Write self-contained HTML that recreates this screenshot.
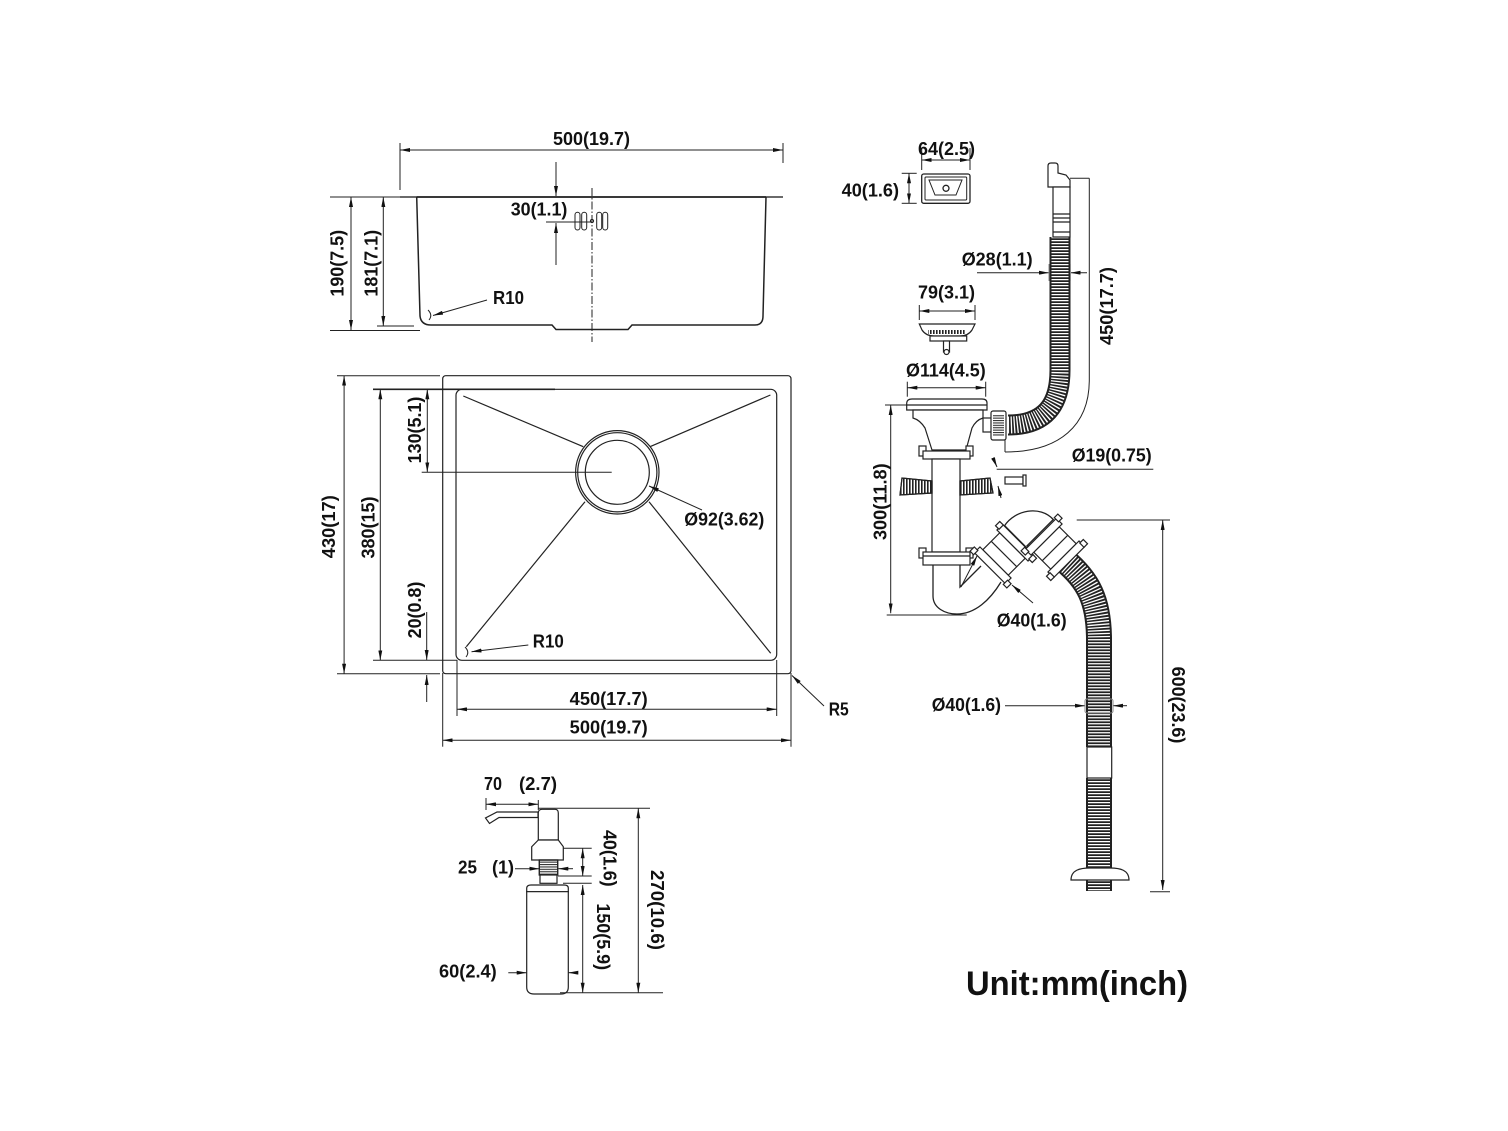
<!DOCTYPE html>
<html>
<head>
<meta charset="utf-8">
<style>
html,body{margin:0;padding:0;background:#fff;}
svg{display:block;}
text{font-family:"Liberation Sans","Noto Sans CJK SC",sans-serif;font-weight:bold;font-size:18px;fill:#111;}
</style>
</head>
<body>
<svg width="1508" height="1131" viewBox="0 0 1508 1131" xmlns="http://www.w3.org/2000/svg">
<defs>
<marker id="a" viewBox="0 0 10 4" refX="10" refY="2" markerWidth="10" markerHeight="4" markerUnits="userSpaceOnUse" orient="auto-start-reverse">
<path d="M0,0 L10,2 L0,4 z" fill="#111"/>
</marker>
<pattern id="vs" width="3" height="20" patternUnits="userSpaceOnUse"><rect width="1.6" height="20" fill="#222"/></pattern>
<pattern id="hs" width="20" height="2.4" patternUnits="userSpaceOnUse"><rect width="20" height="1.1" fill="#333"/></pattern>
</defs>
<rect width="1508" height="1131" fill="#fff"/>

<!-- ===== TOP SIDE VIEW ===== -->
<g stroke="#222" fill="none" stroke-width="1">
<line x1="400" y1="143" x2="400" y2="190"/>
<line x1="783" y1="143" x2="783" y2="163"/>
<line x1="400" y1="150" x2="783" y2="150" marker-start="url(#a)" marker-end="url(#a)"/>
<line x1="330" y1="197" x2="400" y2="197"/>
<line x1="400" y1="197" x2="783" y2="197" stroke-width="1.8" stroke="#555"/>
<line x1="416.7" y1="197" x2="766" y2="197" stroke-width="1.4"/>
<path d="M416.7,197 L420,316 Q421,325 431,325 L552,325 L556,329.5 L628,329.5 L632,325 L755,325 Q763,325 763,316 L766,197" stroke-width="1.5"/>
<line x1="330" y1="330.5" x2="420" y2="330.5"/>
<line x1="377" y1="326" x2="414" y2="326"/>
<line x1="351" y1="197" x2="351" y2="330" marker-start="url(#a)" marker-end="url(#a)"/>
<line x1="383.3" y1="197" x2="383.3" y2="326" marker-start="url(#a)" marker-end="url(#a)"/>
<line x1="556" y1="162" x2="556" y2="196" marker-end="url(#a)"/>
<line x1="556" y1="265" x2="556" y2="223" marker-end="url(#a)"/>
<line x1="546" y1="222" x2="592" y2="222"/>
<line x1="592" y1="188" x2="592" y2="342" stroke-dasharray="8 2 1.5 2"/>
<rect x="575" y="212.3" width="5" height="17.7" rx="2.5"/>
<rect x="581.7" y="212.3" width="5" height="17.7" rx="2.5"/>
<rect x="596.7" y="212.3" width="5" height="17.7" rx="2.5"/>
<rect x="602.7" y="212.3" width="5" height="17.7" rx="2.5"/>
<circle cx="592" cy="221" r="1.6"/>
<line x1="487" y1="300" x2="433" y2="315.5" marker-end="url(#a)"/>
<path d="M428,310 Q433,315 429,320"/>
</g>
<text x="553" y="145" textLength="77" lengthAdjust="spacingAndGlyphs">500(19.7)</text>
<text x="510.7" y="215.7" textLength="56.7" lengthAdjust="spacingAndGlyphs">30(1.1)</text>
<text transform="translate(337,263.3) rotate(-90)" y="6.5" text-anchor="middle" textLength="66.7" lengthAdjust="spacingAndGlyphs">190(7.5)</text>
<text transform="translate(371,263.3) rotate(-90)" y="6.5" text-anchor="middle" textLength="66.7" lengthAdjust="spacingAndGlyphs">181(7.1)</text>
<text x="493" y="304" textLength="31" lengthAdjust="spacingAndGlyphs">R10</text>

<!-- ===== TOP VIEW ===== -->
<g stroke="#222" fill="none" stroke-width="1.2">
<rect x="442.7" y="375.7" width="348.3" height="298" rx="3"/>
<rect x="456" y="389.3" width="320.7" height="271" rx="6"/>
<circle cx="617.3" cy="472.3" r="41.7"/>
<circle cx="617.3" cy="472.3" r="39.6"/>
<circle cx="617.3" cy="472.3" r="32"/>
<line x1="463.3" y1="396" x2="583.3" y2="446.7"/>
<line x1="650" y1="446.7" x2="770.4" y2="395"/>
<line x1="585" y1="501.7" x2="466.3" y2="646.7"/>
<line x1="649" y1="501.7" x2="770.7" y2="653.3"/>
</g>
<g stroke="#222" fill="none" stroke-width="1">
<line x1="421.7" y1="472.3" x2="611.7" y2="472.3"/>
<line x1="337" y1="375.7" x2="440" y2="375.7"/>
<line x1="337" y1="673.7" x2="440" y2="673.7"/>
<line x1="344.1" y1="375.7" x2="344.1" y2="673.7" marker-start="url(#a)" marker-end="url(#a)"/>
<line x1="373" y1="389.3" x2="555" y2="389.3" stroke-width="1.6"/>
<line x1="373" y1="660.3" x2="457" y2="660.3"/>
<line x1="380.3" y1="389.3" x2="380.3" y2="660.3" marker-start="url(#a)" marker-end="url(#a)"/>
<line x1="427.3" y1="389.3" x2="427.3" y2="472.3" marker-start="url(#a)" marker-end="url(#a)"/>
<line x1="426.7" y1="612" x2="426.7" y2="660" marker-end="url(#a)"/>
<line x1="426.7" y1="702" x2="426.7" y2="675" marker-end="url(#a)"/>
<line x1="528.3" y1="645" x2="471.5" y2="651.7" marker-end="url(#a)"/>
<path d="M465,647 Q470,652 466,657"/>
<line x1="702" y1="510" x2="649" y2="486" marker-end="url(#a)"/>
<line x1="457" y1="660" x2="457" y2="716"/>
<line x1="776.7" y1="660" x2="776.7" y2="716"/>
<line x1="457" y1="709.3" x2="776.7" y2="709.3" marker-start="url(#a)" marker-end="url(#a)"/>
<line x1="442.7" y1="673" x2="442.7" y2="746.7"/>
<line x1="791" y1="673" x2="791" y2="746.7"/>
<line x1="442.7" y1="740.3" x2="791" y2="740.3" marker-start="url(#a)" marker-end="url(#a)"/>
<line x1="824" y1="706" x2="792" y2="675.5" marker-end="url(#a)"/>
</g>
<text transform="translate(328.6,526.7) rotate(-90)" y="6.5" text-anchor="middle" textLength="63" lengthAdjust="spacingAndGlyphs">430(17)</text>
<text transform="translate(368,527.5) rotate(-90)" y="6.5" text-anchor="middle" textLength="62" lengthAdjust="spacingAndGlyphs">380(15)</text>
<text transform="translate(414.7,430) rotate(-90)" y="6.5" text-anchor="middle" textLength="66.7" lengthAdjust="spacingAndGlyphs">130(5.1)</text>
<text transform="translate(414.7,610) rotate(-90)" y="6.5" text-anchor="middle" textLength="56.7" lengthAdjust="spacingAndGlyphs">20(0.8)</text>
<text x="532.8" y="647.3" textLength="31" lengthAdjust="spacingAndGlyphs">R10</text>
<text x="684.3" y="525.7" textLength="80" lengthAdjust="spacingAndGlyphs">Ø92(3.62)</text>
<text x="569.7" y="705" textLength="78" lengthAdjust="spacingAndGlyphs">450(17.7)</text>
<text x="569.7" y="733.3" textLength="78" lengthAdjust="spacingAndGlyphs">500(19.7)</text>
<text x="828.7" y="715.7" textLength="20" lengthAdjust="spacingAndGlyphs">R5</text>

<!-- ===== SOAP DISPENSER ===== -->
<g stroke="#222" fill="none" stroke-width="1">
<line x1="486" y1="798" x2="486" y2="810"/>
<line x1="538.3" y1="800" x2="538.3" y2="810"/>
<line x1="486" y1="804.3" x2="538.3" y2="804.3" marker-start="url(#a)" marker-end="url(#a)"/>
<line x1="538" y1="808.3" x2="650" y2="808.3"/>
</g>
<g stroke="#222" fill="#fff" stroke-width="1.2">
<polygon points="538,812 497,812 485.5,818 489.5,823.5 499,817.5 538,817.5"/>
<path d="M538.3,840 L538.3,813 Q538.3,809.3 542,809.3 L555,809.3 Q558.3,809.3 558.3,813 L558.3,840 Z"/>
<path d="M538.3,840 L531.7,846.7 L531.7,860 L563.3,860 L563.3,846.7 L558.3,840 Z"/>
<rect x="539.3" y="860" width="18.4" height="15" fill="url(#hs)"/>
<rect x="539.3" y="860" width="18.4" height="15" fill="none"/>
<rect x="540" y="875" width="17" height="8.3"/>
<path d="M526.7,891.7 L526.7,888 Q527,885 531,885 L564,885 Q568.3,885 568.3,888 L568.3,891.7 Z"/>
<path d="M526.7,891.7 L526.7,987 Q526.7,994 534,994 L561,994 Q568.3,994 568.3,987 L568.3,891.7 Z"/>
</g>
<g stroke="#222" fill="none" stroke-width="1">
<line x1="563" y1="848.3" x2="591.7" y2="848.3"/>
<line x1="558" y1="876" x2="591.7" y2="876"/>
<line x1="582.7" y1="848.3" x2="582.7" y2="876" marker-start="url(#a)" marker-end="url(#a)"/>
<line x1="563" y1="883.3" x2="591.7" y2="883.3"/>
<line x1="582.7" y1="885" x2="582.7" y2="992.7" marker-start="url(#a)" marker-end="url(#a)"/>
<line x1="638.3" y1="808.3" x2="638.3" y2="992.7" marker-start="url(#a)" marker-end="url(#a)"/>
<line x1="560" y1="992.7" x2="663" y2="992.7"/>
<line x1="515" y1="868.7" x2="539.3" y2="868.7" marker-end="url(#a)"/>
<line x1="573" y1="868.7" x2="558.3" y2="868.7" marker-end="url(#a)"/>
<line x1="508.3" y1="972.7" x2="526.7" y2="972.7" marker-end="url(#a)"/>
<line x1="578" y1="972.7" x2="568.3" y2="972.7" marker-end="url(#a)"/>
</g>
<text x="484" y="790" textLength="18" lengthAdjust="spacingAndGlyphs">70</text>
<text x="519" y="790" textLength="38" lengthAdjust="spacingAndGlyphs">(2.7)</text>
<text x="458" y="873.3" textLength="19" lengthAdjust="spacingAndGlyphs">25</text>
<text x="492" y="873.3" textLength="22" lengthAdjust="spacingAndGlyphs">(1)</text>
<text x="439" y="977.3" textLength="57.7" lengthAdjust="spacingAndGlyphs">60(2.4)</text>
<text transform="translate(610,858.3) rotate(90)" y="6.5" text-anchor="middle" textLength="56.7" lengthAdjust="spacingAndGlyphs">40(1.6)</text>
<text transform="translate(603.3,936.7) rotate(90)" y="6.5" text-anchor="middle" textLength="66.7" lengthAdjust="spacingAndGlyphs">150(5.9)</text>
<text transform="translate(657.7,910) rotate(90)" y="6.5" text-anchor="middle" textLength="80" lengthAdjust="spacingAndGlyphs">270(10.6)</text>

<!-- ===== OVERFLOW PLATE ===== -->
<g stroke="#222" fill="none" stroke-width="1">
<line x1="921.7" y1="148" x2="921.7" y2="170"/>
<line x1="970" y1="148" x2="970" y2="170"/>
<line x1="921.7" y1="160" x2="970" y2="160" marker-start="url(#a)" marker-end="url(#a)"/>
<line x1="901.7" y1="173.3" x2="916.7" y2="173.3"/>
<line x1="901.7" y1="203.3" x2="916.7" y2="203.3"/>
<line x1="909" y1="173.3" x2="909" y2="203.3" marker-start="url(#a)" marker-end="url(#a)"/>
</g>
<g stroke="#222" fill="none" stroke-width="1.3">
<rect x="921.7" y="174" width="48.3" height="29.3" rx="2"/>
<rect x="925" y="177" width="41.7" height="23" rx="1" stroke-width="1"/>
<path d="M929,180 L962,180 L956,195 L935,195 Z" stroke-width="1"/>
<circle cx="946" cy="188.3" r="3"/>
</g>
<text x="918" y="155" textLength="57" lengthAdjust="spacingAndGlyphs">64(2.5)</text>
<text x="841.7" y="196.7" textLength="57.3" lengthAdjust="spacingAndGlyphs">40(1.6)</text>

<!-- ===== OVERFLOW PIPE ===== -->
<g stroke="#222" fill="none">
<path d="M1060,237 L1060,370 C1060,405 1045,425 1008,425" stroke="#222" stroke-width="21"/>
<path d="M1060,237 L1060,370 C1060,405 1045,425 1008,425" stroke="#fff" stroke-width="17" stroke-dasharray="1.3 1.7"/>
</g>
<g stroke="#222" fill="#fff" stroke-width="1.2">
<path d="M1048,187 L1048,166 Q1048,163 1051,163 L1055,163 Q1058,163 1058,166 L1058,173 L1066,175 L1070,180 L1070,187 Z"/>
<rect x="1053" y="187" width="17" height="50"/>
<line x1="1053" y1="214" x2="1070" y2="214"/>
<line x1="1053" y1="218" x2="1070" y2="218"/>
<line x1="1053" y1="222" x2="1070" y2="222"/>
<line x1="1053" y1="232" x2="1070" y2="232"/>
</g>
<g stroke="#222" fill="none" stroke-width="1">
<line x1="1070" y1="178.3" x2="1089.3" y2="178.3"/>
<path d="M1089.3,178.3 L1089.3,380 C1089.3,425 1060,452 1005,452"/>
<line x1="1005" y1="437" x2="1005" y2="452"/>
<line x1="977" y1="272.7" x2="1049" y2="272.7" marker-end="url(#a)"/>
<line x1="1087" y1="272.7" x2="1070.5" y2="272.7" marker-end="url(#a)"/>
<line x1="1049" y1="264" x2="1049" y2="281" stroke="#888"/>
<line x1="1070.5" y1="264" x2="1070.5" y2="281" stroke="#888"/>
</g>
<text x="961.7" y="265.7" textLength="71" lengthAdjust="spacingAndGlyphs">Ø28(1.1)</text>
<text transform="translate(1106.7,306) rotate(-90)" y="6.5" text-anchor="middle" textLength="78" lengthAdjust="spacingAndGlyphs">450(17.7)</text>

<!-- ===== STRAINER ===== -->
<g stroke="#222" fill="none" stroke-width="1">
<line x1="919.3" y1="305" x2="919.3" y2="320"/>
<line x1="975" y1="305" x2="975" y2="320"/>
<line x1="919.3" y1="311" x2="975" y2="311" marker-start="url(#a)" marker-end="url(#a)"/>
</g>
<g stroke="#222" fill="#fff" stroke-width="1.2">
<path d="M919.3,324 L975,324 L972,330 Q968,336 960,336 L934,336 Q926,336 922,330 Z"/>
<rect x="928" y="330" width="38" height="4" fill="url(#vs)" stroke="none"/>
<rect x="930" y="336" width="36.7" height="5"/>
<rect x="943.5" y="341" width="6" height="11"/>
<circle cx="946.5" cy="352" r="2.5"/>
</g>
<text x="918" y="298.3" textLength="57" lengthAdjust="spacingAndGlyphs">79(3.1)</text>

<!-- ===== DRAIN BODY ===== -->
<g stroke="#222" fill="none" stroke-width="1">
<line x1="907.3" y1="381.7" x2="907.3" y2="396.7"/>
<line x1="985.7" y1="381.7" x2="985.7" y2="396.7"/>
<line x1="907.3" y1="387.7" x2="985.7" y2="387.7" marker-start="url(#a)" marker-end="url(#a)"/>
<line x1="885" y1="405" x2="906.7" y2="405"/>
<line x1="890.7" y1="405" x2="890.7" y2="613.3" marker-start="url(#a)" marker-end="url(#a)"/>
<line x1="886.7" y1="615" x2="966.7" y2="615"/>
</g>
<text x="906" y="376.7" textLength="79.7" lengthAdjust="spacingAndGlyphs">Ø114(4.5)</text>
<text transform="translate(880,501.7) rotate(-90)" y="6.5" text-anchor="middle" textLength="76.7" lengthAdjust="spacingAndGlyphs">300(11.8)</text>

<g stroke="#222" fill="#fff" stroke-width="1.2">
<path d="M906.7,410 L906.7,403 Q907,399 912,399 L982,399 Q987,399 987,403 L987,410 Z"/>
<line x1="907" y1="405" x2="987" y2="405"/>
<path d="M913,410 L983,410 L983,418 Q976,420 972,428 L966,450 L932,450 L925,428 Q920,420 913,418 Z"/>
<rect x="983" y="418" width="9" height="14"/>
<rect x="991" y="411" width="15" height="29" rx="2"/>
<rect x="993" y="415" width="11" height="21" fill="url(#hs)" stroke="none"/>
<rect x="919" y="446" width="7" height="10"/>
<rect x="966" y="446" width="7" height="10"/>
<rect x="923" y="451" width="47" height="8"/>
<rect x="932" y="459" width="28" height="93"/>
<path d="M932,481 L902,478 L900,495 L932,493 Z" fill="url(#vs)"/>
<path d="M932,481 L902,478 L900,495 L932,493 Z" fill="none"/>
<path d="M960,481 L990,478 L993,493 L960,495 Z" fill="url(#vs)"/>
<path d="M960,481 L990,478 L993,493 L960,495 Z" fill="none"/>
<rect x="1005" y="477" width="18" height="7"/>
<rect x="1023" y="475" width="3" height="11"/>
<rect x="919" y="548" width="7" height="10"/>
<rect x="966" y="548" width="7" height="10"/>
<rect x="923" y="552" width="47" height="13"/>
<line x1="923" y1="556" x2="970" y2="556"/>
</g>
<!-- trap -->
<g stroke="#222" fill="none" stroke-width="1.3">
<path d="M933,565 L933,596 C933,608 945,614 957,614 C975,614 990,600 1001,582"/>
<path d="M960,565 L960,587 L981,566"/>
</g>
<!-- hose lower -->
<g fill="none">
<path d="M1064,560 C1088,580 1099,600 1099,640 L1099,747" stroke="#222" stroke-width="26"/>
<path d="M1064,560 C1088,580 1099,600 1099,640 L1099,747" stroke="#fff" stroke-width="22" stroke-dasharray="1.3 1.7"/>
<path d="M1099,778 L1099,891" stroke="#222" stroke-width="26"/>
<path d="M1099,778 L1099,891" stroke="#fff" stroke-width="22" stroke-dasharray="1.3 1.7"/>
</g>
<g stroke="#222" fill="#fff" stroke-width="1.2">
<rect x="1087" y="747" width="24.7" height="31"/>
<path d="M1071,880 C1071,870 1080,868 1090,868 L1110,868 C1120,868 1129,870 1129,880 Z"/>
</g>
<!-- elbow -->
<path d="M1004.6,525.6 C1015,510 1040,505 1053.3,519.5 L1026.5,546.3 Q1029,544 1031.4,552.4 Z" stroke="#222" fill="#fff" stroke-width="1.3"/>
<!-- connectors -->
<g transform="translate(1004,554) rotate(-45)" stroke="#222" fill="#fff" stroke-width="1.2">
<rect x="-12" y="-18" width="24" height="36"/>
<line x1="0" y1="-18" x2="0" y2="18"/>
<rect x="-20" y="-22" width="8" height="44"/>
<rect x="12" y="-22" width="8" height="44"/>
<rect x="-22" y="-26" width="6" height="5"/>
<rect x="-22" y="21" width="6" height="5"/>
<rect x="14" y="-26" width="6" height="5"/>
<rect x="14" y="21" width="6" height="5"/>
</g>
<g transform="translate(1055,548) rotate(45)" stroke="#222" fill="#fff" stroke-width="1.2">
<rect x="-12" y="-18" width="24" height="36"/>
<line x1="0" y1="-18" x2="0" y2="18"/>
<rect x="-20" y="-22" width="8" height="44"/>
<rect x="12" y="-22" width="8" height="44"/>
<rect x="-22" y="-26" width="6" height="5"/>
<rect x="-22" y="21" width="6" height="5"/>
<rect x="14" y="-26" width="6" height="5"/>
<rect x="14" y="21" width="6" height="5"/>
</g>
<!-- drain dims -->
<g stroke="#222" fill="none" stroke-width="1">
<line x1="996.7" y1="469.3" x2="1153.3" y2="469.3"/>
<line x1="993" y1="458" x2="997" y2="467" marker-end="url(#a)"/>
<line x1="1001" y1="498" x2="998" y2="486" marker-end="url(#a)"/>
<line x1="961" y1="587" x2="977" y2="556" marker-end="url(#a)"/>
<line x1="1033" y1="603" x2="1012" y2="585" marker-end="url(#a)"/>
<line x1="1076.7" y1="520" x2="1170" y2="520"/>
<line x1="1162.7" y1="520" x2="1162.7" y2="890" marker-start="url(#a)" marker-end="url(#a)"/>
<line x1="1150" y1="891.7" x2="1170" y2="891.7"/>
<line x1="1005" y1="705.7" x2="1085" y2="705.7" marker-end="url(#a)"/>
<line x1="1127" y1="705.7" x2="1113" y2="705.7" marker-end="url(#a)"/>
<rect x="1085" y="699" width="28" height="14" rx="2" stroke="#888"/>
</g>
<text x="1071.7" y="461.7" textLength="80" lengthAdjust="spacingAndGlyphs">Ø19(0.75)</text>
<text x="996.7" y="626.7" textLength="70" lengthAdjust="spacingAndGlyphs">Ø40(1.6)</text>
<text x="931.7" y="711" textLength="69.3" lengthAdjust="spacingAndGlyphs">Ø40(1.6)</text>
<text transform="translate(1178.3,705) rotate(90)" y="6.5" text-anchor="middle" textLength="76.7" lengthAdjust="spacingAndGlyphs">600(23.6)</text>

<text x="966" y="995" style="font-size:34px" textLength="222" lengthAdjust="spacingAndGlyphs">Unit:mm(inch)</text>
</svg>
</body>
</html>
